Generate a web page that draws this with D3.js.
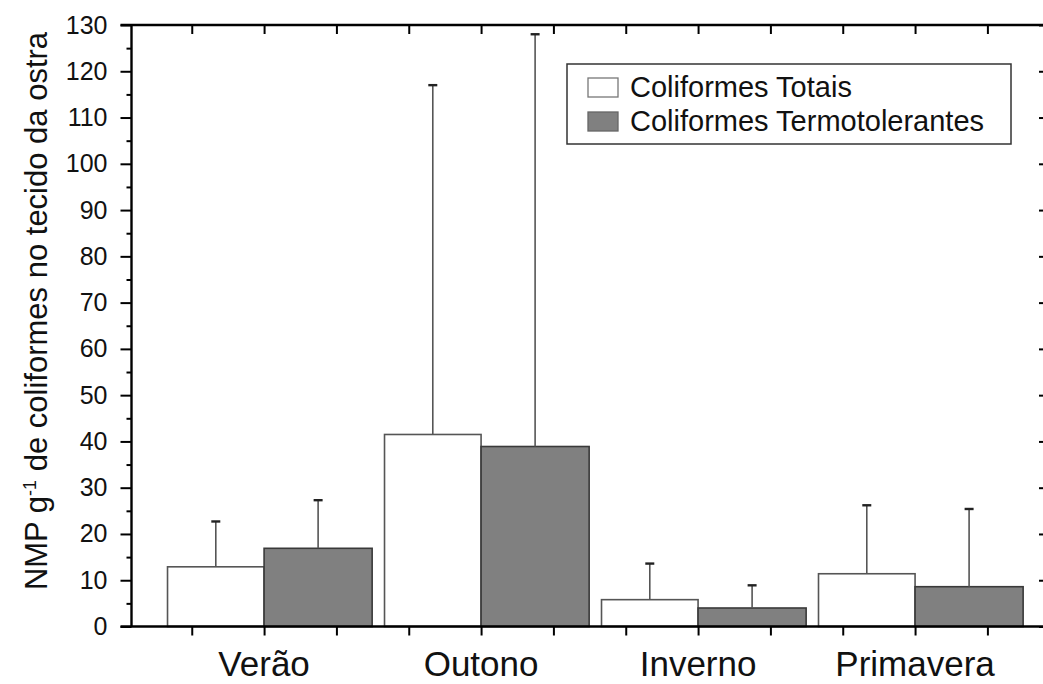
<!DOCTYPE html>
<html>
<head>
<meta charset="utf-8">
<script src="https://cdn.jsdelivr.net/npm/d3@7"></script>
<style>
  html, body { margin: 0; padding: 0; background: #fff; }
  svg { display: block; font-family: Arial, "Liberation Sans", sans-serif; }
</style>
</head>
<body>
<svg id="chart" width="1043" height="684"></svg>
<script>
// Seasons and coliform counts (NMP per gram of oyster tissue), with standard deviations
const seasons = ["Verão", "Outono", "Inverno", "Primavera"];
const totais = [12.9, 41.5, 5.8, 11.4];
const totaisSD = [9.8, 75.5, 7.8, 14.8];
const termo = [16.9, 38.9, 4.0, 8.6];
const termoSD = [10.4, 89.1, 4.9, 16.8];
const seriesNames = ["Coliformes Totais", "Coliformes Termotolerantes"];
const yTicks = d3.range(0, 131, 10);

const svg = d3.select("#chart");

// Frame of the plot
const plotL = 131.5, plotR = 1047, plotT = 25, plotB = 626.5;

// Category axis is numeric: season i sits at i + 1
const x = d3.scaleLinear().domain([0.389, 4.608]).range([plotL, plotR]);
const y = d3.scaleLinear().domain([0, 130]).range([plotB, plotT]);

const whiteW = 0.445;   // width of the "Totais" bar, in category units
const greyW = 0.498;    // width of the "Termotolerantes" bar

const rows = seasons.map((s, i) => ({
  season: s, pos: i + 1,
  tot: totais[i], totSD: totaisSD[i],
  ter: termo[i], terSD: termoSD[i]
}));

// Bars
const g = svg.append("g");
g.selectAll("rect.tot").data(rows).join("rect")
  .attr("class", "tot")
  .attr("x", d => x(d.pos - whiteW))
  .attr("y", d => y(d.tot))
  .attr("width", d => x(d.pos) - x(d.pos - whiteW))
  .attr("height", d => y(0) - y(d.tot))
  .attr("fill", "#ffffff")
  .attr("stroke", "#555")
  .attr("stroke-width", 1.6);

g.selectAll("rect.ter").data(rows).join("rect")
  .attr("class", "ter")
  .attr("x", d => x(d.pos))
  .attr("y", d => y(d.ter))
  .attr("width", d => x(d.pos + greyW) - x(d.pos))
  .attr("height", d => y(0) - y(d.ter))
  .attr("fill", "#808080")
  .attr("stroke", "#3a3a3a")
  .attr("stroke-width", 1.6);

// Upper error bars
function errorBars(cls, center, value, sd) {
  const eb = g.selectAll("g." + cls).data(rows).join("g").attr("class", cls);
  eb.append("line")
    .attr("x1", d => x(center(d))).attr("x2", d => x(center(d)))
    .attr("y1", d => y(value(d))).attr("y2", d => y(value(d) + sd(d)))
    .attr("stroke", "#555").attr("stroke-width", 1.6);
  eb.append("line")
    .attr("x1", d => x(center(d)) - 4.5).attr("x2", d => x(center(d)) + 4.5)
    .attr("y1", d => y(value(d) + sd(d))).attr("y2", d => y(value(d) + sd(d)))
    .attr("stroke", "#222").attr("stroke-width", 2.4);
}
errorBars("ebTot", d => d.pos - whiteW / 2, d => d.tot, d => d.totSD);
errorBars("ebTer", d => d.pos + greyW / 2, d => d.ter, d => d.terSD);

// Axes
const xTickVals = d3.range(2, 14).map(k => k / 3);
const minorY = d3.range(5, 130, 10);

function styleAxis(sel) {
  sel.select(".domain").remove();
  sel.selectAll(".tick line").attr("stroke", "#000").attr("stroke-width", 2);
}

// Bottom
svg.append("g").attr("transform", `translate(0,${plotB})`)
  .call(d3.axisBottom(x).tickValues(xTickVals).tickSize(9).tickFormat(""))
  .call(styleAxis);
// Top, ticks pointing inward
svg.append("g").attr("transform", `translate(0,${plotT})`)
  .call(d3.axisBottom(x).tickValues(xTickVals).tickSize(9).tickFormat(""))
  .call(styleAxis);
// Left, major
const yAxis = svg.append("g").attr("transform", `translate(${plotL},0)`)
  .call(d3.axisLeft(y).tickValues(yTicks).tickSize(11).tickPadding(13))
  .call(styleAxis);
yAxis.selectAll(".tick text")
  .attr("font-size", 25).attr("fill", "#111")
  .attr("font-family", "Arial, 'Liberation Sans', sans-serif");
// Left, minor
svg.append("g").attr("transform", `translate(${plotL},0)`)
  .call(d3.axisLeft(y).tickValues(minorY).tickSize(5).tickFormat(""))
  .call(styleAxis);
// Right, ticks pointing inward
svg.append("g").attr("transform", `translate(${plotR},0)`)
  .call(d3.axisLeft(y).tickValues(yTicks).tickSize(8).tickFormat(""))
  .call(styleAxis);

// Frame lines
svg.append("line").attr("x1", plotL - 11).attr("x2", 1043)
  .attr("y1", plotB).attr("y2", plotB).attr("stroke", "#000").attr("stroke-width", 2.4);
svg.append("line").attr("x1", plotL - 11).attr("x2", 1043)
  .attr("y1", plotT).attr("y2", plotT).attr("stroke", "#000").attr("stroke-width", 2.4);
svg.append("line").attr("x1", plotL).attr("x2", plotL)
  .attr("y1", plotT).attr("y2", plotB).attr("stroke", "#000").attr("stroke-width", 2.4);
svg.append("line").attr("x1", plotR).attr("x2", plotR)
  .attr("y1", plotT).attr("y2", plotB).attr("stroke", "#000").attr("stroke-width", 2.4);

// Season labels
svg.append("g").selectAll("text").data(rows).join("text")
  .attr("x", d => x(d.pos))
  .attr("y", 676)
  .attr("text-anchor", "middle")
  .attr("font-size", 35)
  .attr("fill", "#111")
  .text(d => d.season);

// Y title
const yt = svg.append("text")
  .attr("transform", "translate(47,311) rotate(-90)")
  .attr("text-anchor", "middle")
  .attr("font-size", 31)
  .attr("fill", "#111");
yt.append("tspan").text("NMP g");
yt.append("tspan").attr("dy", -11).attr("font-size", 18).text("-1");
yt.append("tspan").attr("dy", 11).text(" de coliformes no tecido da ostra");

// Legend
const lg = svg.append("g");
lg.append("rect").attr("x", 567).attr("y", 64).attr("width", 444).attr("height", 80)
  .attr("fill", "#fff").attr("stroke", "#333").attr("stroke-width", 1.5);
const swatchFill = ["#ffffff", "#808080"];
const swatchStroke = ["#777", "#666"];
seriesNames.forEach((name, i) => {
  lg.append("rect").attr("x", 588).attr("y", 78 + i * 34).attr("width", 30).attr("height", 19)
    .attr("fill", swatchFill[i]).attr("stroke", swatchStroke[i]).attr("stroke-width", 1.3);
  lg.append("text").attr("x", 630).attr("y", 97 + i * 34)
    .attr("font-size", 29).attr("fill", "#111").text(name);
});
</script>
</body>
</html>
